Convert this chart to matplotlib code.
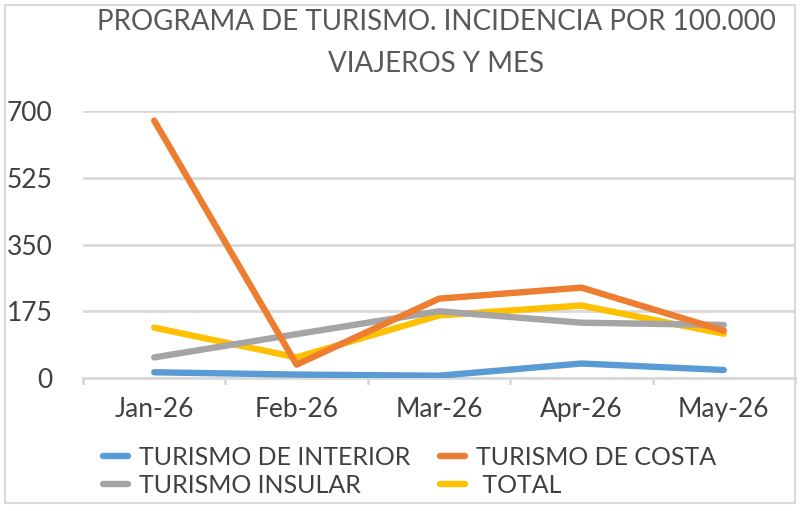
import matplotlib.pyplot as plt
from matplotlib.patches import Rectangle

plt.rcParams['font.family'] = ['Lato', 'DejaVu Sans']

months = ["Jan-26", "Feb-26", "Mar-26", "Apr-26", "May-26"]
interior = [15, 9, 6, 38, 21]
costa = [675, 35, 208, 237, 124]
insular = [54, 115, 175, 145, 139]
total = [132, 54, 164, 190, 116]

series = [
    ("TURISMO DE INTERIOR", interior, "#5B9BD5"),
    ("TURISMO DE COSTA", costa, "#ED7D31"),
    ("TURISMO INSULAR", insular, "#A5A5A5"),
    ("TOTAL", total, "#FFC000"),
]

fig = plt.figure(figsize=(8, 5.11), dpi=100)
ax = fig.add_axes([83 / 800, 1 - 378 / 511, (795 - 83) / 800, (378 - 111) / 511])

x = list(range(len(months)))
# total drawn first so the others sit on top of it
for name, vals, col in [series[0], series[3], series[2], series[1]]:
    ax.plot(x, vals, color=col, lw=4.6, solid_capstyle="round", label=name, zorder=3)

ax.set_xlim(-0.5, len(months) - 0.5)
ax.set_ylim(0, 700)
ax.set_yticks([0, 175, 350, 525, 700])
ax.yaxis.grid(True, color="#d9d9d9", lw=2)
ax.set_axisbelow(True)
for s in ["top", "right", "left"]:
    ax.spines[s].set_visible(False)
ax.spines["bottom"].set_color("#d9d9d9")
ax.spines["bottom"].set_linewidth(2)
ax.tick_params(axis="y", length=0, labelsize=19, labelcolor="#404040", pad=22)
ax.set_xticks(x)
ax.set_xticklabels(months)
ax.tick_params(axis="x", length=0, labelsize=19, labelcolor="#404040", pad=14)
for b in [i - 0.5 for i in range(len(months) + 1)]:
    ax.plot([b, b], [0, -12], color="#d9d9d9", lw=2, clip_on=False)

fig.text(0.545, 1 - 22 / 511, "PROGRAMA DE TURISMO. INCIDENCIA POR 100.000",
         ha="center", va="center", fontsize=20, color="#595959")
fig.text(0.545, 1 - 64 / 511, "VIAJEROS Y MES",
         ha="center", va="center", fontsize=20, color="#595959")

handles = {h.get_label(): h for h in ax.get_lines() if not h.get_label().startswith("_")}
# legend fills column by column
order = ["TURISMO DE INTERIOR", "TURISMO INSULAR", "TURISMO DE COSTA", "TOTAL"]
labels = ["TURISMO DE INTERIOR", "TURISMO INSULAR", "TURISMO DE COSTA", " TOTAL"]
fig.legend([handles[k] for k in order], labels, ncol=2, loc="center",
           bbox_to_anchor=(0.512, 1 - 471 / 511), frameon=False, fontsize=18,
           labelcolor="#404040", handlelength=1.0, handletextpad=0.45,
           columnspacing=1.2, labelspacing=0.2)

fig.patches.append(Rectangle((5 / 800, 8 / 511), 790 / 800, 498 / 511,
                             transform=fig.transFigure, fill=False,
                             edgecolor="#d9d9d9", lw=1.5))

fig.savefig("out.png", dpi=100)
